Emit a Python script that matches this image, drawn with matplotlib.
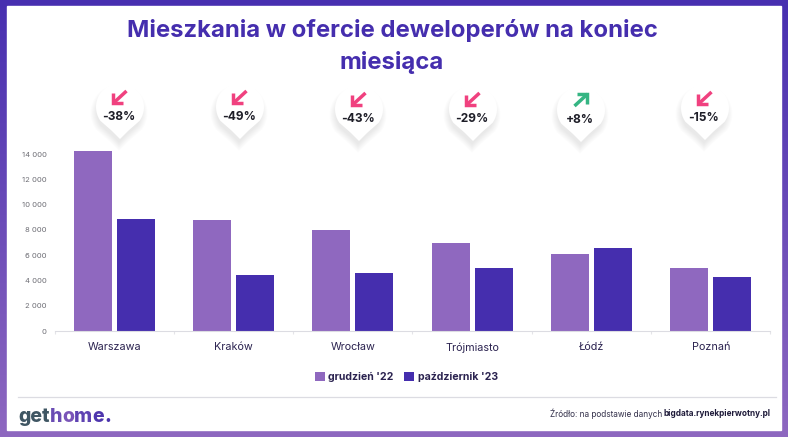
import numpy as np
import matplotlib.pyplot as plt
from matplotlib.colors import LinearSegmentedColormap
from matplotlib.patches import Polygon, Rectangle

W, H = 788, 437

cities = ["Warszawa", "Kraków", "Wrocław", "Trójmiasto", "Łódź", "Poznań"]
dec_22 = [14250, 8750, 8000, 6950, 6100, 5000]
oct_23 = [8900, 4400, 4600, 4950, 6600, 4250]
changes = ["-38%", "-49%", "-43%", "-29%", "+8%", "-15%"]
yticks = [0, 2000, 4000, 6000, 8000, 10000, 12000, 14000]

LIGHT = "#8f68bf"
DARK = "#452eae"
PINK = "#f0417f"
GREEN = "#35b583"
INK = "#2b2350"

plt.rcParams["font.family"] = ["Inter", "DejaVu Sans"]

fig = plt.figure(figsize=(W / 100, H / 100), dpi=100)

# background frame + everything decorative, in pixel coords
bg = fig.add_axes([0, 0, 1, 1], zorder=0)
cmap = LinearSegmentedColormap.from_list("frame", ["#472fb0", "#8e68c0"])
bg.imshow(np.linspace(0, 1, 256).reshape(-1, 1), cmap=cmap, aspect="auto", extent=[0, W, H, 0])
bg.set_xlim(0, W); bg.set_ylim(H, 0); bg.axis("off")
bg.add_patch(Rectangle((7, 6), 774, 424, color="white", zorder=1))
bg.plot([18, 776], [397, 397], color="#dcdce2", lw=0.9, zorder=2)

fig.text(392 / W, 1 - 30 / H, "Mieszkania w ofercie deweloperów na koniec", ha="center", va="center",
         fontsize=17.2, fontweight="bold", color=DARK)
fig.text(392 / W, 1 - 62 / H, "miesiąca", ha="center", va="center",
         fontsize=17.2, fontweight="bold", color=DARK)

# bars
ax = fig.add_axes([54.5 / W, 1 - 331 / H, (770 - 54) / W, (331 - 140) / H], zorder=1)
ax.patch.set_alpha(0)
x = np.arange(len(cities))
bar_w = 0.32
b1 = ax.bar(x - 0.18, dec_22, bar_w, color=LIGHT, label="grudzień '22")
b2 = ax.bar(x + 0.18, oct_23, bar_w, color=DARK, label="październik '23")
ax.set_xlim(-0.5, 5.5)
ax.set_ylim(0, 191 / 12.64 * 1000)
ax.set_yticks(yticks)
ax.set_yticklabels([f"{v:,}".replace(",", " ") for v in yticks], fontsize=5.5, color="#6f6f76")
ax.set_xticks(x)
ax.set_xticklabels(cities, fontsize=7.8, color=INK)
ax.set_xticks(np.arange(-0.5, 6), minor=True)
ax.tick_params(axis="x", which="major", length=0, pad=8)
ax.tick_params(axis="x", which="minor", length=2.5, color="#e4e4e8", width=0.8)
ax.tick_params(axis="y", length=0, pad=5.8)
for s in ["top", "right", "left"]:
    ax.spines[s].set_visible(False)
ax.spines["bottom"].set_color("#dcdce2")
ax.spines["bottom"].set_linewidth(0.8)

fig.legend(handles=[b1, b2], loc="center", bbox_to_anchor=(406.5 / W, 1 - 377 / H), ncol=2, frameon=False,
           handlelength=0.95, handleheight=0.95, handletextpad=0.3, columnspacing=1.0,
           labelcolor=INK, prop={"weight": "bold", "size": 7.6})

# pins above the groups
pin_x = [120, 240, 359, 473, 581, 705]
pin_y = [107, 107, 109, 109, 110, 108]
ang = np.linspace(np.radians(-35), np.radians(215), 40)
outline = np.column_stack([24 * np.cos(ang), -24 * np.sin(ang)])
outline = np.vstack([outline, [-8, 24], [0, 32], [8, 24]])
for px, py, label in zip(pin_x, pin_y, changes):
    # soft shadow, stacked translucent outlines
    for k in np.linspace(1.2, 0.92, 22):
        bg.add_patch(Polygon(outline * k + [px - 1, py + 6], color="black", alpha=0.005, lw=0, zorder=2))
    bg.add_patch(Polygon(outline + [px, py], color="white", lw=0, zorder=3))
    up = label.startswith("+")
    col = GREEN if up else PINK
    cy = py - 10
    sign = 1 if up else -1
    tip = (px + sign * 6.5, cy - sign * 6)
    tail = (px - sign * 6.5, cy + sign * 6)
    corner_a = (tip[0] - sign * 10, tip[1])
    corner_b = (tip[0], tip[1] + sign * 10)
    bg.plot([tail[0], tip[0]], [tail[1], tip[1]], color=col, lw=2.5, solid_capstyle="butt", zorder=4)
    bg.plot([corner_a[0], tip[0], corner_b[0]], [corner_a[1], tip[1], corner_b[1]], color=col, lw=2.5,
            solid_capstyle="butt", solid_joinstyle="miter", zorder=4)
    bg.text(px - 1, py + 10, label, ha="center", va="center", fontsize=8.6, fontweight="bold",
            color="#1e1e28", zorder=5)

# logo
fig.canvas.draw()
r = fig.canvas.get_renderer()
lx = 18
for txt, col in [("get", "#3f5663"), ("h", "#6a4cb4"), ("o", "#7a55b8"), ("m", "#5f43b2"), ("e", "#4e36ae"),
                 (".", "#4a33ac")]:
    t = bg.text(lx, 415, txt, ha="left", va="center_baseline", fontsize=14, fontweight="heavy", color=col, zorder=4)
    lx = bg.transData.inverted().transform(t.get_window_extent(r))[1, 0] + 0.1

# source line
t = bg.text(771, 414, "bigdata.rynekpierwotny.pl", ha="right", va="center", fontsize=5.9, fontweight="bold",
            color="#1f1b3a", zorder=4)
left = bg.transData.inverted().transform(t.get_window_extent(r))[0, 0]
bg.text(left - 1.5, 414, "Źródło: na podstawie danych", ha="right", va="center", fontsize=5.9, color="#33304a",
        zorder=4)

fig.savefig("out.png", dpi=100)
